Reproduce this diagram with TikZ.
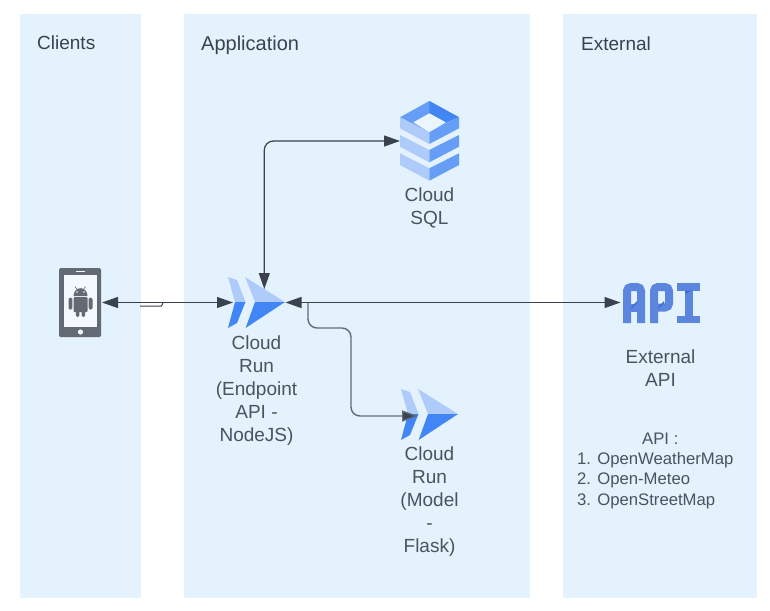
\documentclass[tikz,border=0pt]{standalone}
\usepackage{fontspec}
\setmainfont{Liberation Sans}
\usetikzlibrary{arrows.meta}
\definecolor{panel}{HTML}{E3F2FD}
\definecolor{inkc}{HTML}{3A424E}
\definecolor{txtc}{HTML}{4A5360}
\definecolor{conn}{HTML}{3A424E}
\definecolor{conng}{HTML}{5F6B7A}
\definecolor{blueA}{HTML}{AECBFA}
\definecolor{blueB}{HTML}{4285F4}
\definecolor{blueC}{HTML}{669DF6}
\definecolor{apic}{HTML}{5C85DE}
\definecolor{apid}{HTML}{3B6FDC}
\definecolor{phonec}{HTML}{646A73}
\tikzset{
  paneltitle/.style={anchor=west,text=inkc,font=\fontsize{19}{23}\selectfont,inner sep=0pt},
  lbl/.style={align=center,text=txtc,font=\fontsize{19}{23.2}\selectfont,inner sep=0pt},
  lblsmall/.style={align=left,text=txtc,font=\fontsize{16.7}{20.4}\selectfont,inner sep=0pt,anchor=north west},
  link/.style={draw=conn,line width=1.25pt,rounded corners=9pt},
  linkg/.style={draw=conng,line width=1.4pt,rounded corners=9pt},
  tips/.style={{Triangle[length=16pt,width=11pt,fill=conn]}-{Triangle[length=16pt,width=11pt,fill=conn]}},
  apistroke/.style={draw=apic,line width=8pt}
}
\newcommand{\cloudrunicon}[2]{%
  \begin{scope}[shift={(#1,#2)}]
    \fill[blueA] (228,277) -- (237,280) -- (245.5,302) -- (235,302) -- cycle;
    \fill[blueB] (235,302) -- (245.5,302) -- (237,323) -- (228,328) -- cycle;
    \fill[blueA] (245,277) -- (285,302) -- (255,302) -- cycle;
    \fill[blueB] (255,302) -- (285,302) -- (245.6,328) -- cycle;
  \end{scope}}
\begin{document}
\begin{tikzpicture}[x=1pt,y=-1pt]
\useasboundingbox (0,0) rectangle (770,610);
\fill[white] (0,0) rectangle (770,610);
% panels
\fill[panel] (20,14) rectangle (141,598);
\fill[panel] (184,14) rectangle (530,598);
\fill[panel] (563,14) rectangle (757,598);
\node[paneltitle] (tc) at (37,43) {Clients};
\node[paneltitle,font=\fontsize{20}{24}\selectfont] (ta) at (201,45) {Application};
\node[paneltitle] (te) at (581,43.5) {External};
% phone
\fill[phonec,rounded corners=1.5pt] (59,268) rectangle (101,337);
\fill[panel!45!white] (63.5,275) rectangle (97,327);
\fill[panel!45!white] (76,270.7) rectangle (84.5,272.3);
\fill[panel!45!white] (80.5,332) circle (2.6);
% android
\begin{scope}
  \fill[phonec] (73.5,296) arc[start angle=180,end angle=360,x radius=7,y radius=7.8] -- cycle;
  \draw[phonec,line width=.6pt] (75,286.5) -- (77,289.5) (85.5,286.5) -- (83.5,289.5);
  \fill[phonec,rounded corners=1pt] (73.5,297.2) rectangle (87.5,312);
  \fill[phonec,rounded corners=1.5pt] (68.5,297.5) rectangle (72.4,309.5);
  \fill[phonec,rounded corners=1.5pt] (88.6,297.5) rectangle (92.5,309.5);
  \fill[phonec,rounded corners=1.5pt] (75.8,308) rectangle (79.4,317);
  \fill[phonec,rounded corners=1.5pt] (81.6,308) rectangle (85.2,317);
  \fill[panel!45!white] (77,292) circle (.8) (84,292) circle (.8);
\end{scope}
% cloud run icons
\cloudrunicon{0}{0}
\cloudrunicon{173}{112}
% Cloud SQL icon
\fill[blueC] (429.3,101) -- (459,117.3) -- (429.3,132.3) -- (400,117.3) -- cycle;
\fill[blueB] (429.3,101) -- (459,117.3) -- (445,122.3) -- (429.3,113.3) -- cycle;
\fill[panel!75!white] (429.3,113.3) -- (445.7,122.3) -- (429.3,132.3) -- (413.3,122.3) -- cycle;
\fill[blueA] (400,117.3) -- (429.3,132.3) -- (429.3,144) -- (400,128.3) -- cycle;
\fill[blueC] (429.3,132.3) -- (459,117.3) -- (459,128.3) -- (429.3,144) -- cycle;
\fill[blueA] (400,135) -- (429.3,150) -- (429.3,162.3) -- (400,146.7) -- cycle;
\fill[blueC] (429.3,150) -- (459,135) -- (459,146.7) -- (429.3,162.3) -- cycle;
\fill[blueA] (400,153.3) -- (429.3,168.3) -- (429.3,180.7) -- (400,165) -- cycle;
\fill[blueC] (429.3,168.3) -- (459,153.3) -- (459,165) -- (429.3,180.7) -- cycle;
% API icon
\draw[apistroke,rounded corners=4pt] (627,323) -- (627,287) -- (641,287) -- (641,323);
\draw[apistroke] (627,307.5) -- (641,307.5);
\draw[apistroke,rounded corners=4pt] (654,323) -- (654,287) -- (669,287) -- (669,307.5) -- (654,307.5);
\fill[apic] (677.3,283) rectangle (700,290.5);
\fill[apic] (677.3,315.5) rectangle (700,323);
\fill[apic] (685,283) rectangle (692.5,323);
\fill[apid] (630.5,308) -- (637,301) -- (637,303.5) -- (632,308) -- cycle;
\fill[apid] (657.5,308) -- (664,301) -- (664,303.5) -- (659,308) -- cycle;
\fill[apid] (685,294) -- (692.5,290.5) -- (685,290.5) -- cycle;
% anchors of connectors
\coordinate (phoneE) at (102,302.5);
\coordinate (runW) at (233,302.5);
\coordinate (runN) at (264.3,289);
\coordinate (runE) at (285.5,302.5);
\coordinate (sqlW) at (400,141);
\coordinate (apiW) at (620.5,302.5);
\coordinate (tap) at (308,303);
\coordinate (runTwoW) at (418,416);
\coordinate (jogA) at (140,306);
\coordinate (jogB) at (163,303);
% connectors
\draw[link,tips] (phoneE) -- (runW);
\draw[link,tips] (runN) -- (264.3,141) -- (sqlW);
\draw[link,tips] (runE) -- (apiW);
\draw[linkg,-{Triangle[length=16pt,width=11pt,fill=conn]}] (tap) -- (308,328) -- (351,328) -- (351,416) -- (runTwoW);
\draw[draw=conn,line width=1pt] (jogA) -- (161.5,306) -- (jogB);
% labels
\node[lbl] (lsql) at (429.5,208) {Cloud\\SQL};
\node[lbl] (lrun) at (256.5,390.5) {Cloud\\Run\\(Endpoint\\API -\\NodeJS)};
\node[lbl] (lmod) at (429.5,501.5) {Cloud\\Run\\(Model\\-\\Flask)};
\node[lbl] (lapi) at (660.5,368.5) {External\\API};
\node[lblsmall] (lapis) at (577,432.5) {\hspace*{65pt}API :\\1. OpenWeatherMap\\2. Open-Meteo\\3. OpenStreetMap};
\end{tikzpicture}
\end{document}
